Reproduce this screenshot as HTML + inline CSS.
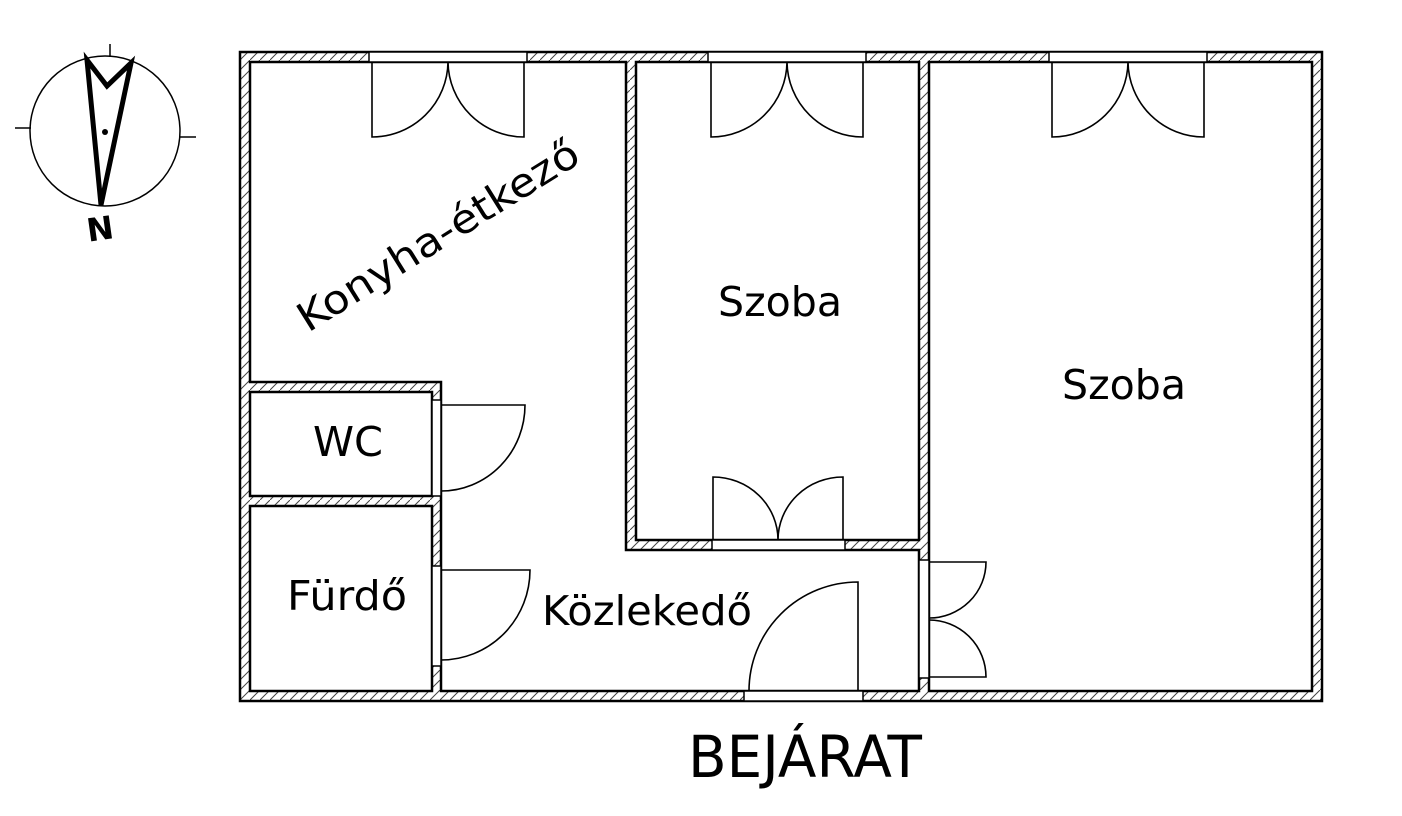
<!DOCTYPE html>
<html><head><meta charset="utf-8"><style>
html,body{margin:0;padding:0;background:#fff;}
svg{display:block;}
text{font-family:"DejaVu Sans","Liberation Sans",sans-serif;fill:#000;}
</style></head><body>
<svg width="1402" height="816" viewBox="0 0 1402 816" xmlns="http://www.w3.org/2000/svg">
<defs>
<pattern id="h" patternUnits="userSpaceOnUse" width="10" height="10">
<rect width="10" height="10" fill="#fff"/>
<path d="M-2,12 L12,-2" stroke="#444" stroke-width="1"/>
</pattern>
</defs>
<rect x="240" y="52" width="1082" height="649" fill="url(#h)" stroke="#000" stroke-width="2.5"/>
<g fill="#fff" stroke="#000" stroke-width="2.5">
<polygon points="250,62 626,62 626,550 919,550 919,691 441,691 441,382 250,382"/>
<rect x="636" y="62" width="283" height="478"/>
<rect x="929" y="62" width="383" height="629"/>
<rect x="250" y="392" width="182" height="104"/>
<rect x="250" y="506" width="182" height="185"/>
</g>
<g fill="#fff" stroke="#000" stroke-width="1.5">
<rect x="369" y="52" width="158" height="10"/>
<rect x="708" y="52" width="158" height="10"/>
<rect x="1049" y="52" width="158" height="10"/>
<rect x="712" y="540" width="133" height="10"/>
<rect x="744" y="691" width="119" height="10"/>
<rect x="432" y="400" width="9" height="96"/>
<rect x="432" y="566" width="9" height="100"/>
<rect x="919" y="560" width="10" height="118"/>
</g>
<g fill="none" stroke="#000" stroke-width="1.6">
<path d="M372,62 V137 A76,76 0 0 0 448,62 A76,76 0 0 0 524,137 V62"/>
<path d="M711,62 V137 A76,76 0 0 0 787,62 A76,76 0 0 0 863,137 V62"/>
<path d="M1052,62 V137 A76,76 0 0 0 1128,62 A76,76 0 0 0 1204,137 V62"/>
<path d="M713,540 V477 A65,63 0 0 1 778,540 A65,63 0 0 1 843,477 V540"/>
<path d="M858,691 V582 A109,109 0 0 0 749,691"/>
<path d="M441,405 H525 A84,86 0 0 1 441,491"/>
<path d="M441,570 H530 A89,90 0 0 1 441,660"/>
<path d="M929,562 H986 A57,56 0 0 1 929,618"/>
<path d="M929,677 H986 A57,57 0 0 0 929,620"/>
</g>
<g fill="none" stroke="#000">
<circle cx="105" cy="131" r="75" stroke-width="1.5"/>
<line x1="110" y1="44" x2="110" y2="57" stroke-width="1.5"/>
<line x1="15" y1="128" x2="31" y2="128" stroke-width="1.5"/>
<line x1="180" y1="137" x2="196" y2="137" stroke-width="1.5"/>
<path d="M87,60 L107,86 L131,63 L101,205 Z" stroke-width="5" stroke-linejoin="miter"/>
</g>
<circle cx="105" cy="132" r="3" fill="#000"/>
<text x="100" y="240" font-size="32" font-weight="bold" text-anchor="middle" transform="rotate(-8 100 228)">N</text>
<text x="0" y="0" font-size="40" transform="translate(308,333) rotate(-32)" textLength="324" lengthAdjust="spacingAndGlyphs">Konyha-étkező</text>
<text x="780" y="316" font-size="41" text-anchor="middle" textLength="124" lengthAdjust="spacingAndGlyphs">Szoba</text>
<text x="1124" y="399" font-size="41" text-anchor="middle" textLength="124" lengthAdjust="spacingAndGlyphs">Szoba</text>
<text x="348" y="456" font-size="41" text-anchor="middle" textLength="70" lengthAdjust="spacingAndGlyphs">WC</text>
<text x="347" y="610" font-size="41" text-anchor="middle" textLength="120" lengthAdjust="spacingAndGlyphs">Fürdő</text>
<text x="647" y="625" font-size="41" text-anchor="middle" textLength="210" lengthAdjust="spacingAndGlyphs">Közlekedő</text>
<text x="688" y="777" font-size="58" textLength="234" lengthAdjust="spacingAndGlyphs">BEJÁRAT</text>
</svg>
</body></html>
